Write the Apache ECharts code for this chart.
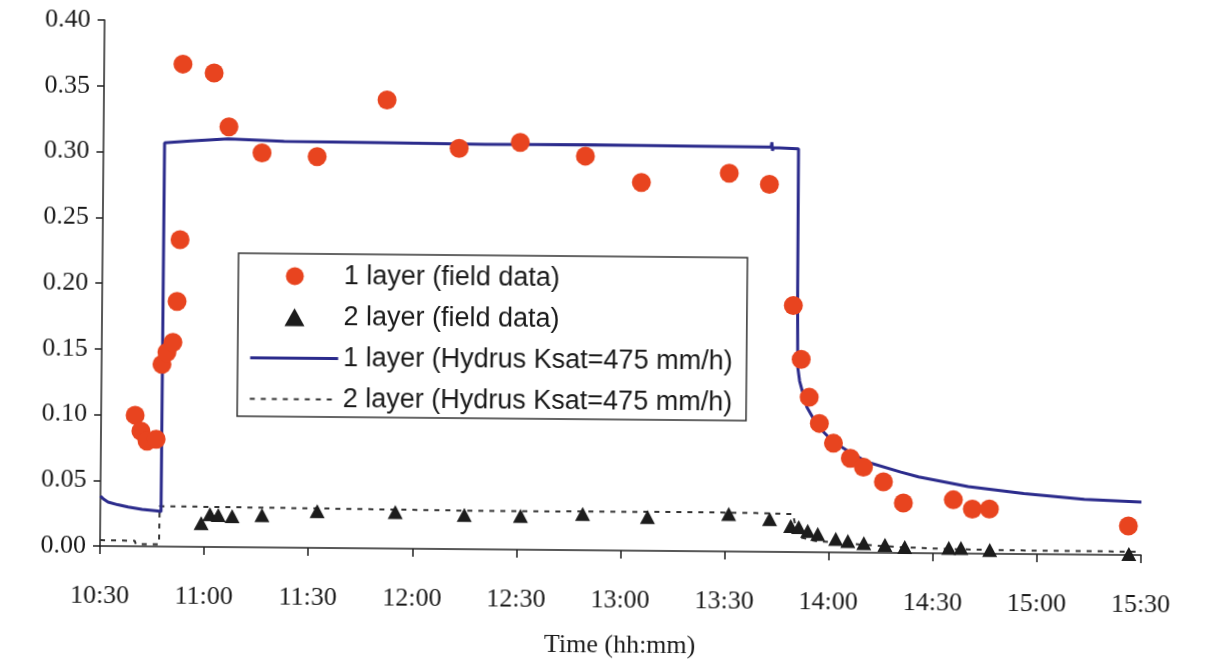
<!DOCTYPE html>
<html>
<head>
<meta charset="utf-8">
<script src="https://cdn.jsdelivr.net/npm/echarts@6/dist/echarts.min.js"></script>
<style>
  html, body { margin: 0; padding: 0; background: #ffffff; }
  #chart { width: 1205px; height: 659px; transform: rotate(0.5deg); transform-origin: 100px 547px; }
</style>
</head>
<body>
<div id="chart"></div>
<script>
// Time is given in minutes after 10:30.
const xTickLabels = ['10:30','11:00','11:30','12:00','12:30','13:00','13:30','14:00','14:30','15:00','15:30'];
const yTickLabels = ['0.00','0.05','0.10','0.15','0.20','0.25','0.30','0.35','0.40'];

// 1 layer (field data)
const layer1FieldTime = [9.8, 11.5, 13.3, 15.9, 17.4, 18.8, 20.5, 21.6, 22.3, 22.7, 31.7, 36.1, 45.7, 61.6, 81.6, 102.5, 120.1, 138.9, 155.1, 180.4, 192.0, 199.2, 201.6, 204.0, 207.0, 211.1, 216.0, 219.8, 225.6, 231.4, 245.8, 251.3, 256.2, 296.3];
const layer1FieldValue = [0.0997, 0.0876, 0.080, 0.0816, 0.1385, 0.1477, 0.1553, 0.1865, 0.2335, 0.367, 0.3605, 0.3196, 0.300, 0.2975, 0.341, 0.3048, 0.3097, 0.2997, 0.280, 0.2876, 0.2794, 0.1875, 0.1466, 0.1178, 0.098, 0.083, 0.0717, 0.065, 0.054, 0.038, 0.0408, 0.0338, 0.034, 0.022];

// 2 layer (field data)
const layer2FieldTime = [29.1, 31.6, 34.0, 38.0, 46.6, 62.5, 85.0, 104.9, 121.1, 139.0, 157.7, 181.1, 192.9, 199.0, 201.3, 203.9, 206.8, 212.0, 215.5, 220.1, 226.2, 231.9, 244.6, 248.1, 256.4, 296.5];
const layer2FieldValue = [0.0181, 0.025, 0.0243, 0.0236, 0.0246, 0.028, 0.0278, 0.026, 0.0256, 0.0275, 0.0256, 0.0285, 0.0249, 0.0198, 0.019, 0.0161, 0.0139, 0.0102, 0.0087, 0.0073, 0.006, 0.0046, 0.0041, 0.0042, 0.0029, 0.0007];

// 1 layer (Hydrus Ksat=475 mm/h)
const layer1ModelTime = [0, 1, 2.2, 5, 8.0, 12, 16.6, 17.5, 17.6, 25, 35.9, 52, 80, 110, 140, 170, 192.4, 192.6, 192.8, 193.0, 200.3, 200.4, 200.5, 200.6, 201.2, 202.1, 203.4, 205.4, 208, 211.2, 216, 221.0, 230.6, 235.7, 250, 266.1, 283.5, 300];
const layer1ModelValue = [0.038, 0.0355, 0.0335, 0.0315, 0.0298, 0.0282, 0.027, 0.0265, 0.307, 0.3085, 0.3105, 0.309, 0.3085, 0.308, 0.3083, 0.308, 0.3077, 0.3115, 0.3050, 0.3075, 0.3067, 0.200, 0.170, 0.141, 0.130, 0.1215, 0.110, 0.101, 0.092, 0.0838, 0.076, 0.0688, 0.0615, 0.058, 0.051, 0.046, 0.042, 0.0403];

// 2 layer (Hydrus Ksat=475 mm/h)
const layer2ModelTime = [0, 10, 10.3, 17.0, 17.1, 56.2, 94.5, 113.0, 171.6, 188.9, 199.6, 200.4, 201.3, 206.2, 210.0, 220, 230, 245, 260, 300];
const layer2ModelValue = [0.0045, 0.0042, 0.0018, 0.0018, 0.0307, 0.0301, 0.0295, 0.0292, 0.0297, 0.0294, 0.0289, 0.0198, 0.0115, 0.0085, 0.0079, 0.006, 0.0045, 0.0033, 0.0028, 0.0025];

const seriesNames = ['1 layer (field data)', '2 layer (field data)', '1 layer (Hydrus Ksat=475 mm/h)', '2 layer (Hydrus Ksat=475 mm/h)'];

const zip = (xs, ys) => xs.map((x, i) => [x, ys[i]]);

const chart = echarts.init(document.getElementById('chart'), null, { renderer: 'canvas' });
const serif = 'Liberation Serif, Times New Roman, serif';
const sans = 'Liberation Sans, Arial, sans-serif';
const redColor = '#E8441F';
const blueColor = '#2B2B8C';
const darkColor = '#1c1c1c';

chart.setOption({
  animation: false,
  backgroundColor: '#ffffff',
  grid: { left: 100, right: 64, top: 20, bottom: 112 },
  legend: {
    orient: 'vertical',
    left: 236,
    top: 252,
    padding: [9, 14, 4, 11],
    itemWidth: 88,
    itemHeight: 18,
    itemGap: 14,
    symbolKeepAspect: true,
    borderColor: '#333333',
    borderWidth: 1.5,
    backgroundColor: '#ffffff',
    textStyle: { fontFamily: sans, fontSize: 27, color: '#1a1a1a' },
    data: [
      { name: seriesNames[0], icon: 'circle', itemStyle: { color: redColor } },
      { name: seriesNames[1], icon: 'path://M5,0 L10,9 L0,9 Z', itemStyle: { color: darkColor } },
      { name: seriesNames[2], itemStyle: { opacity: 0 }, lineStyle: { color: blueColor, width: 3 } },
      { name: seriesNames[3], itemStyle: { opacity: 0 }, lineStyle: { color: '#333333', width: 2, type: [5, 6] } }
    ]
  },
  xAxis: {
    type: 'value',
    min: 0,
    max: 300,
    interval: 30,
    name: 'Time (hh:mm)',
    nameLocation: 'middle',
    nameGap: 82,
    nameTextStyle: { fontFamily: serif, fontSize: 26, color: '#1a1a1a' },
    axisLine: { lineStyle: { color: '#222222', width: 1.5 } },
    axisTick: { show: true, inside: false, length: 8, lineStyle: { color: '#222222', width: 1.5 } },
    axisLabel: {
      margin: 37,
      fontFamily: serif,
      fontSize: 26,
      color: '#1a1a1a',
      formatter: v => xTickLabels[Math.round(v / 30)]
    },
    splitLine: { show: false }
  },
  yAxis: {
    type: 'value',
    min: 0,
    max: 0.4,
    interval: 0.05,
    axisLine: { show: true, lineStyle: { color: '#222222', width: 1.5 } },
    axisTick: { show: true, inside: false, length: 7, lineStyle: { color: '#222222', width: 1.5 } },
    axisLabel: {
      margin: 14,
      fontFamily: serif,
      fontSize: 26,
      color: '#1a1a1a',
      formatter: v => yTickLabels[Math.round(v / 0.05)]
    },
    splitLine: { show: false }
  },
  series: [
    {
      name: seriesNames[0],
      type: 'scatter',
      symbol: 'circle',
      symbolSize: 19,
      itemStyle: { color: redColor, opacity: 1 },
      z: 6,
      data: zip(layer1FieldTime, layer1FieldValue)
    },
    {
      name: seriesNames[1],
      type: 'scatter',
      symbol: 'triangle',
      symbolSize: [15, 14],
      itemStyle: { color: darkColor, opacity: 1 },
      z: 5,
      data: zip(layer2FieldTime, layer2FieldValue)
    },
    {
      name: seriesNames[2],
      type: 'line',
      symbol: 'none',
      showSymbol: false,
      lineStyle: { color: blueColor, width: 3 },
      itemStyle: { color: blueColor },
      z: 3,
      data: zip(layer1ModelTime, layer1ModelValue)
    },
    {
      name: seriesNames[3],
      type: 'line',
      symbol: 'none',
      showSymbol: false,
      lineStyle: { color: '#333333', width: 2, type: [5, 6] },
      itemStyle: { color: '#333333' },
      z: 2,
      data: zip(layer2ModelTime, layer2ModelValue)
    }
  ]
});
</script>
</body>
</html>
